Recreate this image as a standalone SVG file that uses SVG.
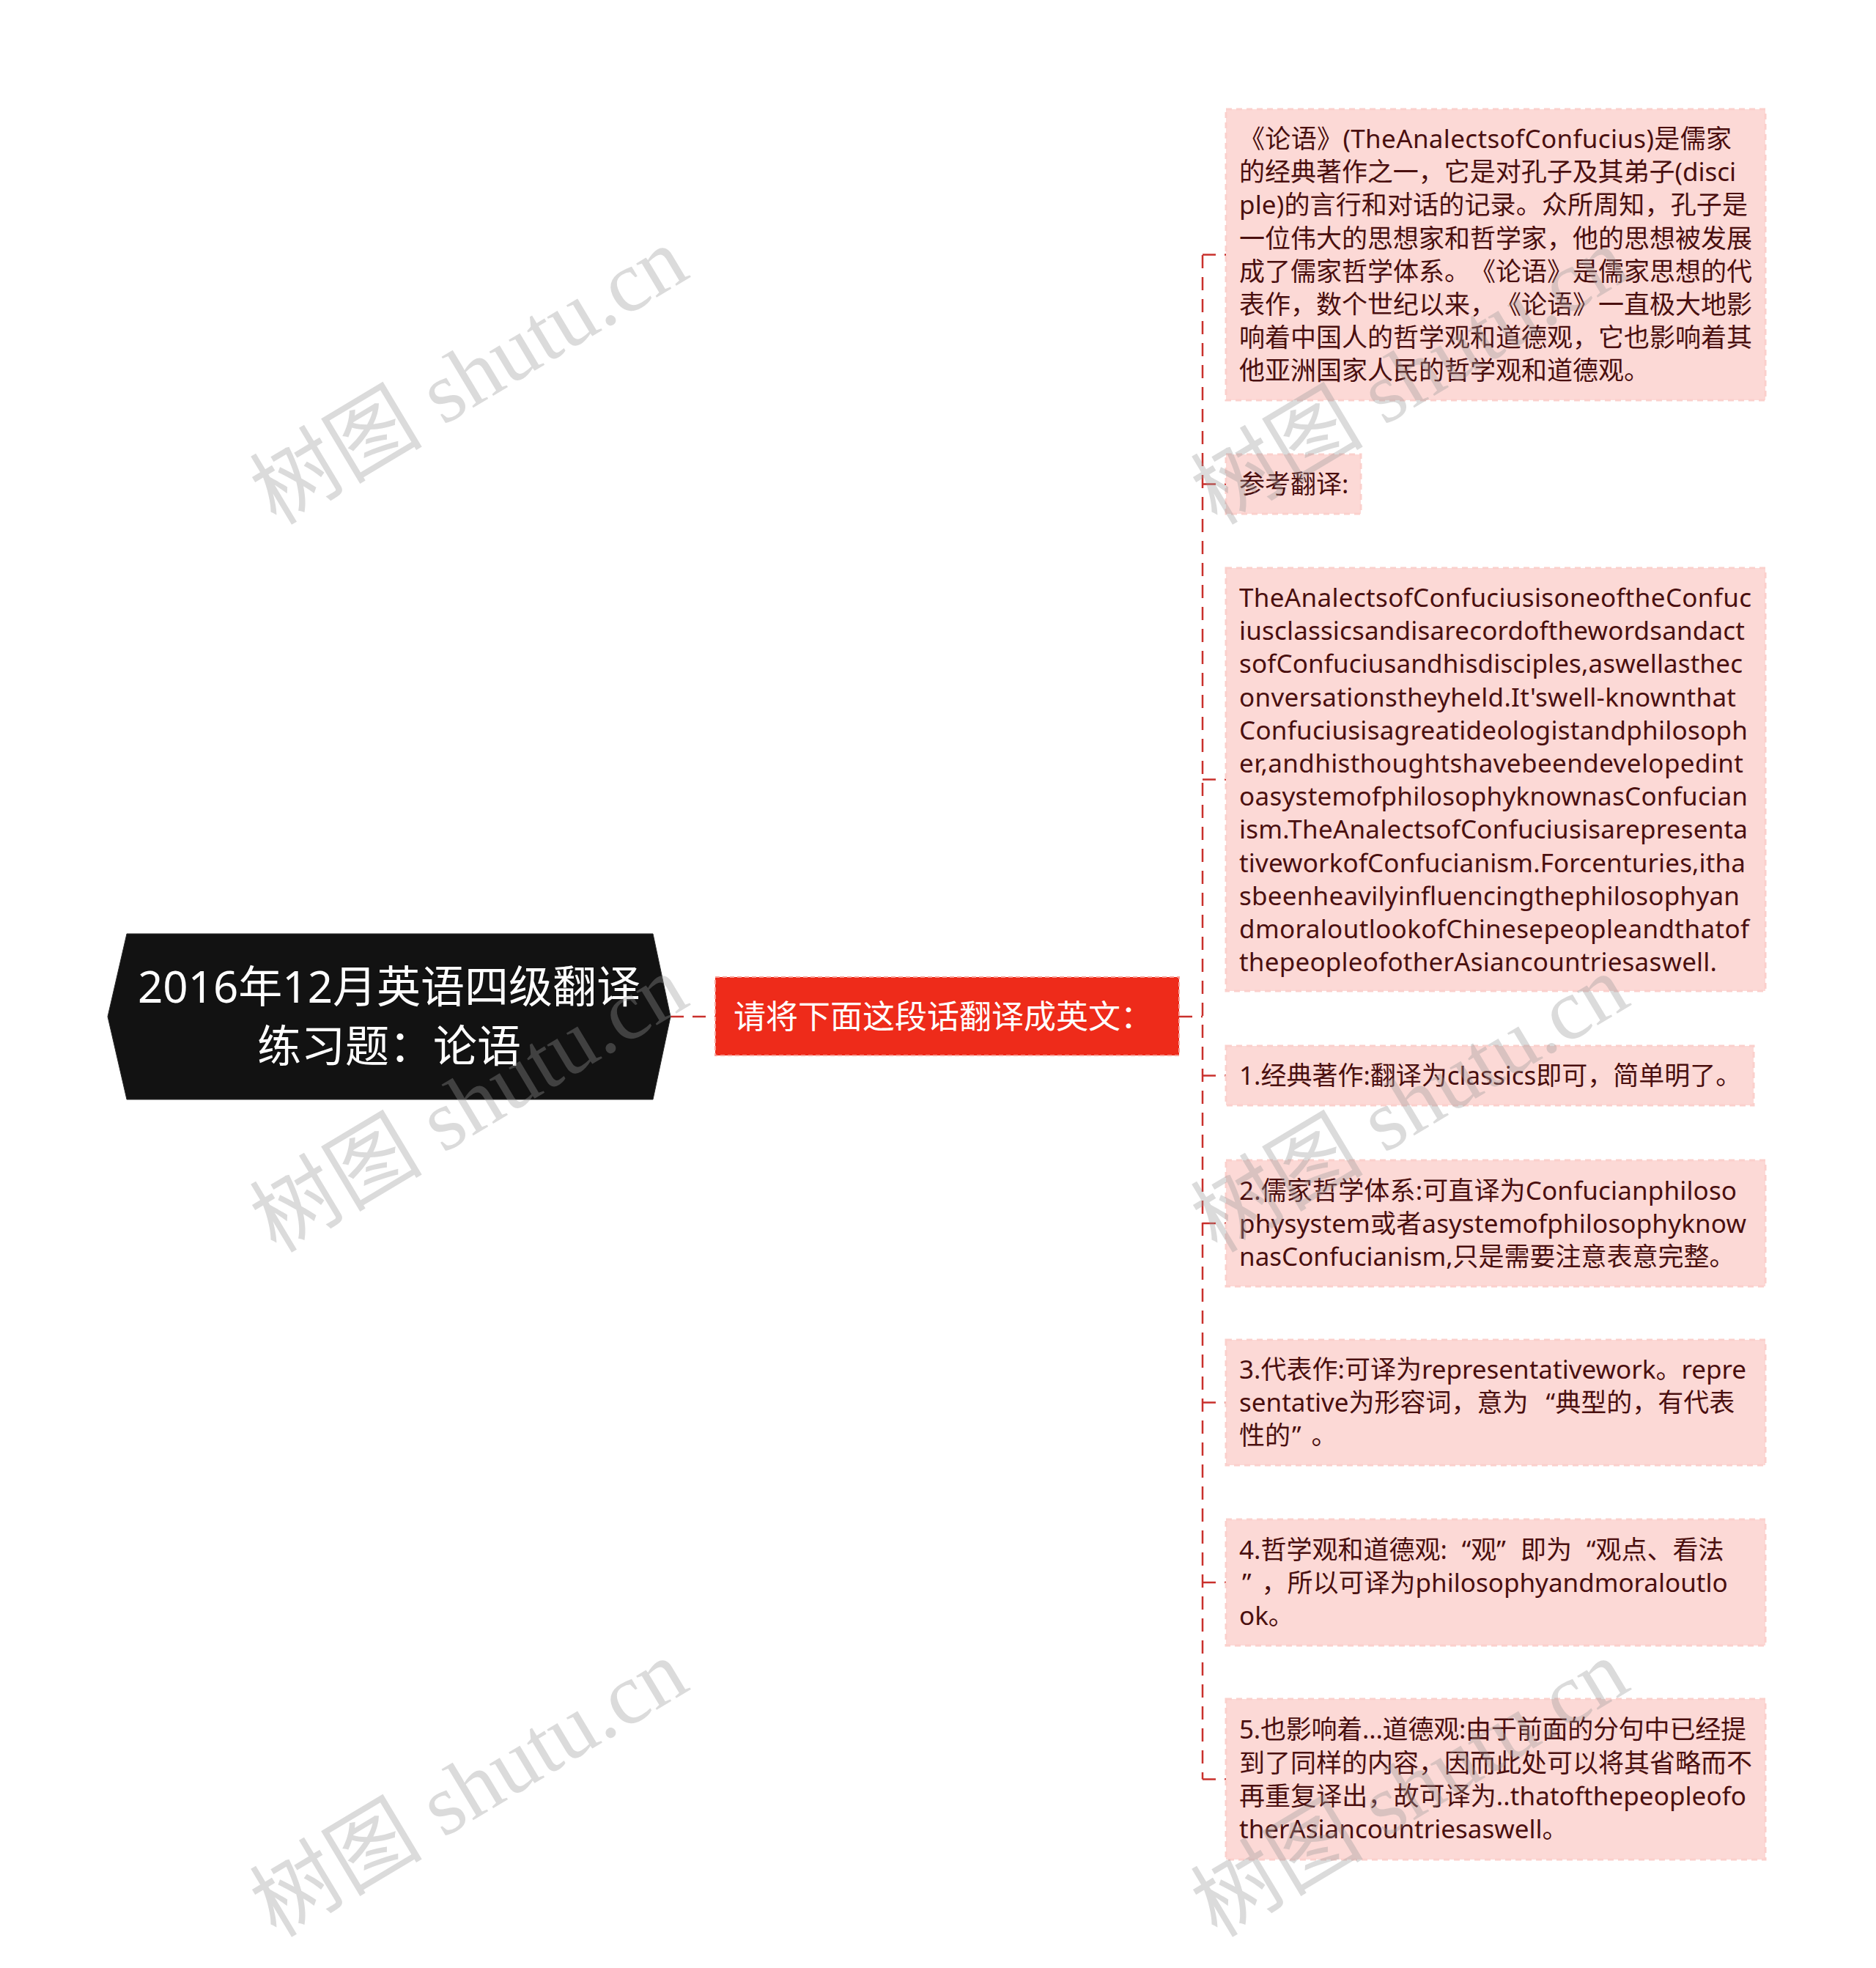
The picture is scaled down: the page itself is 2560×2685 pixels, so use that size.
<svg xmlns="http://www.w3.org/2000/svg" width="2560" height="2685" viewBox="0 0 2560 2685">
<style>
.bg{fill:#ffffff}
.conn{fill:none;stroke:#c9302c;stroke-width:2.5;stroke-dasharray:18 12}
.box{fill:#fcd9d6;stroke:#fbd0cc;stroke-width:3;stroke-dasharray:8 6}
text{text-spacing-trim:space-all}
.t{font-family:"Noto Sans","Noto Sans CJK SC",sans-serif;font-size:35px;fill:#4a0f0f}
.root{fill:#121212;stroke:#2a2a2a;stroke-width:1}
.rt{font-family:"Noto Sans","Noto Sans CJK SC",sans-serif;font-size:60px;fill:#ffffff}
.red{fill:#ee2b1a;stroke:#f7a39b;stroke-width:2;stroke-dasharray:6 4}
.redt{font-family:"Noto Sans","Noto Sans CJK SC",sans-serif;font-size:44px;fill:#ffffff}
.wm{font-family:"Liberation Serif","Noto Sans CJK SC",serif;font-size:118px;fill:#999999;opacity:0.35}
</style>
<rect class="bg" x="0" y="0" width="2560" height="2685"/>

<g id="connectors">
<path class="conn" d="M915,1387 H976"/>
<path class="conn" d="M1609,1387 H1641"/>
<path class="conn" d="M1641,348 V2427.5"/>
<path class="conn" d="M1641,347.5 H1673"/>
<path class="conn" d="M1641,660.5 H1673"/>
<path class="conn" d="M1641,1063.5 H1673"/>
<path class="conn" d="M1641,1467.5 H1673"/>
<path class="conn" d="M1641,1669 H1673"/>
<path class="conn" d="M1641,1913.5 H1673"/>
<path class="conn" d="M1641,2159 H1673"/>
<path class="conn" d="M1641,2427.5 H1673"/>
</g>

<g id="root">
<polygon class="root" points="147,1387 173,1274 891,1274 915,1387 891,1500 173,1500"/>
<text class="rt" x="531" y="1368" text-anchor="middle">2016年12月英语四级翻译</text>
<text class="rt" x="531" y="1449" text-anchor="middle">练习题：论语</text>
</g>

<g id="n-prompt">
<rect class="red" x="976" y="1333" width="633" height="107"/>
<text class="redt" x="1001" y="1403">请将下面这段话翻译成英文：</text>
</g>

<g id="n-original">
<rect class="box" x="1673" y="149" width="736" height="397"/>
<text class="t" x="1691" y="202" textLength="672" lengthAdjust="spacing">《论语》(TheAnalectsofConfucius)是儒家</text>
<text class="t" x="1691" y="247.2" textLength="678" lengthAdjust="spacing">的经典著作之一，它是对孔子及其弟子(disci</text>
<text class="t" x="1691" y="292.4" textLength="694" lengthAdjust="spacing">ple)的言行和对话的记录。众所周知，孔子是</text>
<text class="t" x="1691" y="337.6" textLength="700" lengthAdjust="spacing">一位伟大的思想家和哲学家，他的思想被发展</text>
<text class="t" x="1691" y="382.8" textLength="700" lengthAdjust="spacing">成了儒家哲学体系。《论语》是儒家思想的代</text>
<text class="t" x="1691" y="428" textLength="700" lengthAdjust="spacing">表作，数个世纪以来，《论语》一直极大地影</text>
<text class="t" x="1691" y="473.2" textLength="700" lengthAdjust="spacing">响着中国人的哲学观和道德观，它也影响着其</text>
<text class="t" x="1691" y="518.4">他亚洲国家人民的哲学观和道德观。</text>
</g>

<g id="n-ref">
<rect class="box" x="1673" y="620" width="184" height="81"/>
<text class="t" x="1691" y="673.2">参考翻译:</text>
</g>

<g id="n-english">
<rect class="box" x="1673" y="775" width="736" height="577"/>
<text class="t" x="1691" y="828" textLength="699" lengthAdjust="spacing">TheAnalectsofConfuciusisoneoftheConfuc</text>
<text class="t" x="1691" y="873.2" textLength="690" lengthAdjust="spacing">iusclassicsandisarecordofthewordsandact</text>
<text class="t" x="1691" y="918.4" textLength="687" lengthAdjust="spacing">sofConfuciusandhisdisciples,aswellasthec</text>
<text class="t" x="1691" y="963.6" textLength="678" lengthAdjust="spacing">onversationstheyheld.It'swell-knownthat</text>
<text class="t" x="1691" y="1008.8" textLength="694" lengthAdjust="spacing">Confuciusisagreatideologistandphilosoph</text>
<text class="t" x="1691" y="1054" textLength="688" lengthAdjust="spacing">er,andhisthoughtshavebeendevelopedint</text>
<text class="t" x="1691" y="1099.2" textLength="694" lengthAdjust="spacing">oasystemofphilosophyknownasConfucian</text>
<text class="t" x="1691" y="1144.4" textLength="694" lengthAdjust="spacing">ism.TheAnalectsofConfuciusisarepresenta</text>
<text class="t" x="1691" y="1189.6" textLength="691" lengthAdjust="spacing">tiveworkofConfucianism.Forcenturies,itha</text>
<text class="t" x="1691" y="1234.8" textLength="683" lengthAdjust="spacing">sbeenheavilyinfluencingthephilosophyan</text>
<text class="t" x="1691" y="1280" textLength="696" lengthAdjust="spacing">dmoraloutlookofChinesepeopleandthatof</text>
<text class="t" x="1691" y="1325.2" textLength="652" lengthAdjust="spacing">thepeopleofotherAsiancountriesaswell.</text>
</g>

<g id="n-note1">
<rect class="box" x="1673" y="1427" width="720" height="81"/>
<text class="t" x="1691" y="1480.2">1.经典著作:翻译为classics即可，简单明了。</text>
</g>

<g id="n-note2">
<rect class="box" x="1673" y="1583" width="736" height="172"/>
<text class="t" x="1691" y="1636.5" textLength="679" lengthAdjust="spacing">2.儒家哲学体系:可直译为Confucianphiloso</text>
<text class="t" x="1691" y="1681.7" textLength="692" lengthAdjust="spacing">physystem或者asystemofphilosophyknow</text>
<text class="t" x="1691" y="1726.9">nasConfucianism,只是需要注意表意完整。</text>
</g>

<g id="n-note3">
<rect class="box" x="1673" y="1828" width="736" height="171"/>
<text class="t" x="1691" y="1881" textLength="692" lengthAdjust="spacing">3.代表作:可译为representativework。repre</text>
<text class="t" x="1691" y="1926.2">sentative为形容词，意为<tspan dx="24">“典型的，有代表</tspan></text>
<text class="t" x="1691" y="1971.4">性的<tspan dx="2">”</tspan><tspan dx="14">。</tspan></text>
</g>

<g id="n-note4">
<rect class="box" x="1673" y="2073" width="736" height="172"/>
<text class="t" x="1691" y="2126.5">4.哲学观和道德观:<tspan dx="20">“观”</tspan><tspan dx="20">即为</tspan><tspan dx="20">“观点、看法</tspan></text>
<text class="t" x="1691" y="2171.7"><tspan dx="4">”</tspan><tspan dx="14">，所以可译为philosophyandmoraloutlo</tspan></text>
<text class="t" x="1691" y="2216.9">ok。</text>
</g>

<g id="n-note5">
<rect class="box" x="1673" y="2318" width="736" height="219"/>
<text class="t" x="1691" y="2372.4" textLength="692" lengthAdjust="spacing">5.也影响着...道德观:由于前面的分句中已经提</text>
<text class="t" x="1691" y="2417.6" textLength="700" lengthAdjust="spacing">到了同样的内容，因而此处可以将其省略而不</text>
<text class="t" x="1691" y="2462.8" textLength="692" lengthAdjust="spacing">再重复译出，故可译为..thatofthepeopleofo</text>
<text class="t" x="1691" y="2508">therAsiancountriesaswell。</text>
</g>

<g id="watermarks">
<text class="wm" transform="translate(640,513) rotate(-31)" x="0" y="40" text-anchor="middle">树图 shutu.cn</text>
<text class="wm" transform="translate(640,1506) rotate(-31)" x="0" y="40" text-anchor="middle">树图 shutu.cn</text>
<text class="wm" transform="translate(640,2440) rotate(-31)" x="0" y="40" text-anchor="middle">树图 shutu.cn</text>
<text class="wm" transform="translate(1924,513) rotate(-31)" x="0" y="40" text-anchor="middle">树图 shutu.cn</text>
<text class="wm" transform="translate(1924,1506) rotate(-31)" x="0" y="40" text-anchor="middle">树图 shutu.cn</text>
<text class="wm" transform="translate(1924,2440) rotate(-31)" x="0" y="40" text-anchor="middle">树图 shutu.cn</text>
</g>
</svg>
